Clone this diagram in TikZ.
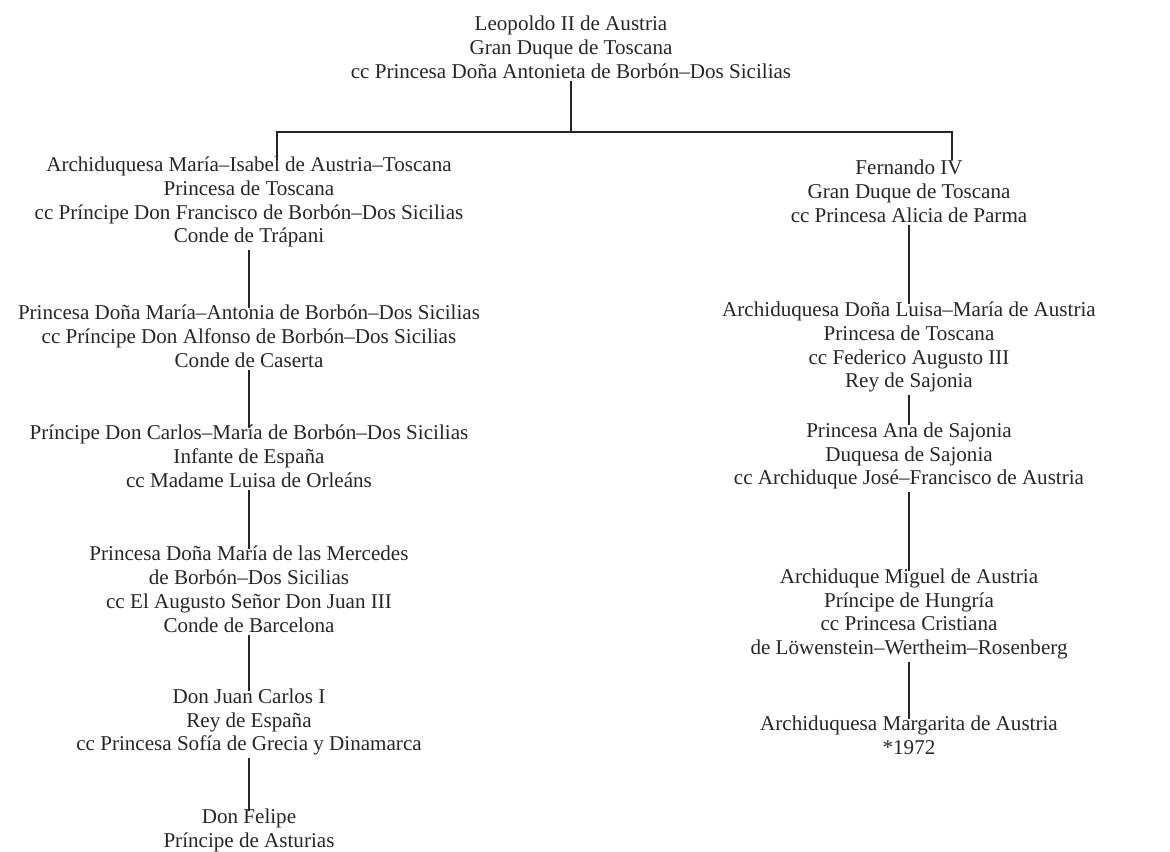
\documentclass[tikz,border=0pt]{standalone}
\usepackage{fontspec}
\setmainfont{Liberation Serif}
\begin{document}
\begin{tikzpicture}[x=0.02cm,y=-0.02cm,
  person/.style={align=center,inner sep=1pt,text=black!85,font=\fontsize{12}{13.6}\selectfont},
  link/.style={draw=black!85,shorten >=-3pt},
  line width=0.7pt]
\useasboundingbox (0,0) rectangle (1170,852);

\node [person] (top) at (571,47) {Leopoldo II de Austria\\Gran Duque de Toscana\\cc Princesa Doña Antonieta de Borbón--Dos Sicilias};

\coordinate (barL) at (277,132);
\coordinate (barR) at (952,132);
\draw [draw=black!85] (top.south) -- (top.south |- barL);
\draw [draw=black!85] (277,160) -- (barL) -- (barR) -- (952,160);

% left branch
\node [person] (mi) at (249,202) {Archiduquesa María--Isabel de Austria--Toscana\\Princesa de Toscana\\cc Príncipe Don Francisco de Borbón--Dos Sicilias\\Conde de Trápani};
\node [person] (ma) at (249,336) {Princesa Doña María--Antonia de Borbón--Dos Sicilias\\cc Príncipe Don Alfonso de Borbón--Dos Sicilias\\Conde de Caserta};
\node [person] (cm) at (249,456) {Príncipe Don Carlos--María de Borbón--Dos Sicilias\\Infante de España\\cc Madame Luisa de Orleáns};
\node [person] (mm) at (249,589) {Princesa Doña María de las Mercedes\\de Borbón--Dos Sicilias\\cc El Augusto Señor Don Juan III\\Conde de Barcelona};
\node [person] (jc) at (249,722) {Don Juan Carlos I\\Rey de España\\cc Princesa Sofía de Grecia y Dinamarca};
\node [person] (fe) at (249,830) {Don Felipe\\Príncipe de Asturias};

\draw [link] (mi.south) -- (ma.north);
\draw [link] (ma.south) -- (cm.north);
\draw [link] (cm.south) -- (mm.north);
\draw [link] (mm.south) -- (jc.north);
\draw [link] (jc.south) -- (fe.north);

% right branch
\node [person] (fd) at (909,191) {Fernando IV\\Gran Duque de Toscana\\cc Princesa Alicia de Parma};
\node [person] (lm) at (909,347) {Archiduquesa Doña Luisa--María de Austria\\Princesa de Toscana\\cc Federico Augusto III\\Rey de Sajonia};
\node [person] (an) at (909,456) {Princesa Ana de Sajonia\\Duquesa de Sajonia\\cc Archiduque José--Francisco de Austria};
\node [person] (mg) at (909,614) {Archiduque Miguel de Austria\\Príncipe de Hungría\\cc Princesa Cristiana\\de Löwenstein--Wertheim--Rosenberg};
\node [person] (mr) at (909,735) {Archiduquesa Margarita de Austria\\*1972};

\draw [link] (fd.south) -- (lm.north);
\draw [link] (lm.south) -- (an.north);
\draw [link] (an.south) -- (mg.north);
\draw [link] (mg.south) -- (mr.north);

\end{tikzpicture}
\end{document}
